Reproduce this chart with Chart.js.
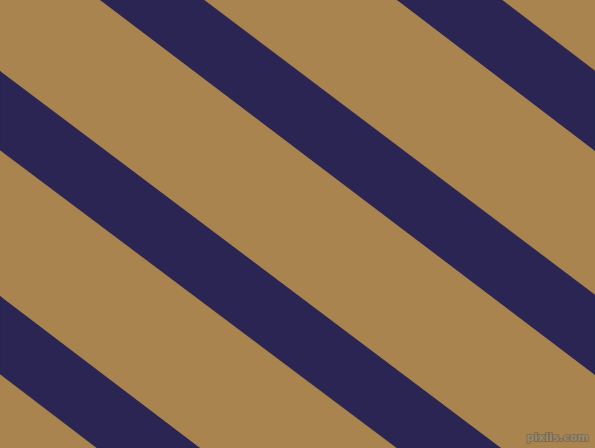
<!DOCTYPE html>
<html>
<head>
<meta charset="utf-8">
<script src="https://cdn.jsdelivr.net/npm/chart.js@4/dist/chart.umd.min.js"></script>
<style>
  html, body { margin: 0; padding: 0; background: #a9844f; }
  #c { display: block; }
</style>
</head>
<body>
<canvas id="c" width="595" height="448"></canvas>
<script>
// stripe corners (x, y from top-left), listed around each band
const stripeTopRight = [[397, 0], [502, 0], [595, 71], [595, 151]];
const stripeUpper    = [[100, 0], [204, 0], [595, 295], [595, 375]];
const stripeMiddle   = [[0, 71], [0, 150], [397, 448], [501, 448]];
const stripeLower    = [[0, 296], [0, 374], [97, 448], [200, 448]];

const stripes = [stripeTopRight, stripeUpper, stripeMiddle, stripeLower];
const BG = "#a9844f";
const STRIPE = "#2a2553";

function toPolygon(pts) {
  return pts.map(([x, y]) => ({ x, y }));
}

const background = {
  id: "background",
  beforeDraw(chart) {
    const ctx = chart.ctx;
    ctx.save();
    ctx.fillStyle = BG;
    ctx.fillRect(0, 0, chart.width, chart.height);
    ctx.restore();
  },
  afterDraw(chart) {
    // small watermark, bottom right
    const ctx = chart.ctx;
    ctx.save();
    ctx.font = "bold 11px 'DejaVu Sans'";
    ctx.textAlign = "right";
    ctx.textBaseline = "alphabetic";
    ctx.lineWidth = 2;
    ctx.strokeStyle = "rgba(110,95,70,0.6)";
    ctx.strokeText("pixiis.com", 589, 441);
    ctx.fillStyle = "rgba(150,140,120,0.9)";
    ctx.fillText("pixiis.com", 589, 441);
    ctx.restore();
  },
};

new Chart(document.getElementById("c"), {
  type: "scatter",
  data: {
    datasets: stripes.map((s) => ({
      data: toPolygon(s),
      showLine: true,
      fill: "shape",
      backgroundColor: STRIPE,
      borderColor: STRIPE,
      borderWidth: 0.5,
      pointRadius: 0,
      tension: 0,
    })),
  },
  options: {
    animation: false,
    responsive: false,
    maintainAspectRatio: false,
    layout: { padding: 0 },
    plugins: { legend: { display: false }, tooltip: { enabled: false } },
    scales: {
      x: { type: "linear", min: 0, max: 595, display: false },
      y: { type: "linear", min: 0, max: 448, reverse: true, display: false },
    },
  },
  plugins: [background],
});
</script>
</body>
</html>
